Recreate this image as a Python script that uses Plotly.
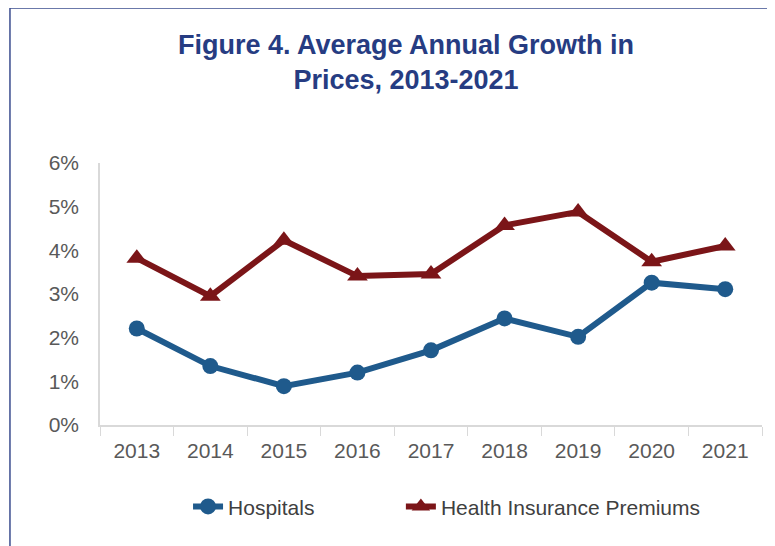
import plotly.graph_objects as go

# Data (annual growth, %)
years = ["2013", "2014", "2015", "2016", "2017", "2018", "2019", "2020", "2021"]
hospitals = [2.21, 1.35, 0.89, 1.20, 1.71, 2.44, 2.02, 3.26, 3.11]
premiums = [3.82, 2.95, 4.23, 3.41, 3.46, 4.57, 4.88, 3.74, 4.10]
y_ticks = [0, 1, 2, 3, 4, 5, 6]
y_labels = ["0%", "1%", "2%", "3%", "4%", "5%", "6%"]

BLUE = "#1f5a8c"
RED = "#7b1518"
NAVY = "#263c82"
GREY_TEXT = "#595959"

fig = go.Figure()

fig.add_trace(go.Scatter(
    x=years, y=hospitals,
    mode="lines+markers",
    name="Hospitals",
    line=dict(color=BLUE, width=6),
    marker=dict(symbol="circle", size=16, color=BLUE),
    legend="legend",
))

fig.add_trace(go.Scatter(
    x=years, y=premiums,
    mode="lines+markers",
    name="Health Insurance Premiums",
    line=dict(color=RED, width=6),
    marker=dict(symbol="triangle-up", size=18, color=RED),
    legend="legend2",
))

# outer frame around the figure
fig.add_shape(
    type="rect", xref="paper", yref="paper",
    x0=-0.136, x1=1.012, y0=-0.6, y1=1.592,
    line=dict(color="#3b4d8f", width=1.5),
    fillcolor="rgba(0,0,0,0)", layer="below",
)

legend_style = dict(
    orientation="h",
    y=-0.234, yanchor="top", xanchor="left",
    font=dict(size=21, color="#404040"),
    bgcolor="rgba(0,0,0,0)",
)

# page body has an 8px margin, so everything is nudged up/left by 8px
fig.update_layout(
    width=775,
    height=546,
    plot_bgcolor="white",
    paper_bgcolor="white",
    margin=dict(l=92, r=21, t=155, b=129),
    font=dict(family="Liberation Sans, Arial, sans-serif", color=GREY_TEXT),
    title=dict(
        text="<b>Figure 4. Average Annual Growth in<br>Prices, 2013-2021</b>",
        x=398 / 775, xanchor="center",
        y=1 - 46 / 546, yanchor="top",
        font=dict(family="Liberation Sans Narrow, Arial Narrow, sans-serif", size=27, color=NAVY),
    ),
    xaxis=dict(
        type="category",
        range=[-0.5, len(years) - 0.5],
        showgrid=False,
        showline=True, linecolor="#d9d9d9", linewidth=1.5,
        ticks="outside", tickson="boundaries", ticklen=9, tickcolor="#d9d9d9",
        tickfont=dict(size=21, color=GREY_TEXT),
        ticklabelstandoff=6,
        zeroline=False,
    ),
    yaxis=dict(
        range=[0, 6],
        tickvals=y_ticks, ticktext=y_labels,
        showgrid=False,
        showline=True, linecolor="#d9d9d9", linewidth=1.5,
        zeroline=False,
        tickfont=dict(size=21, color=GREY_TEXT),
        ticks="", ticklabelstandoff=15,
    ),
    legend=dict(x=0.133, **legend_style),
    legend2=dict(x=0.4545, **legend_style),
    showlegend=True,
)

fig.write_html("out.html")
